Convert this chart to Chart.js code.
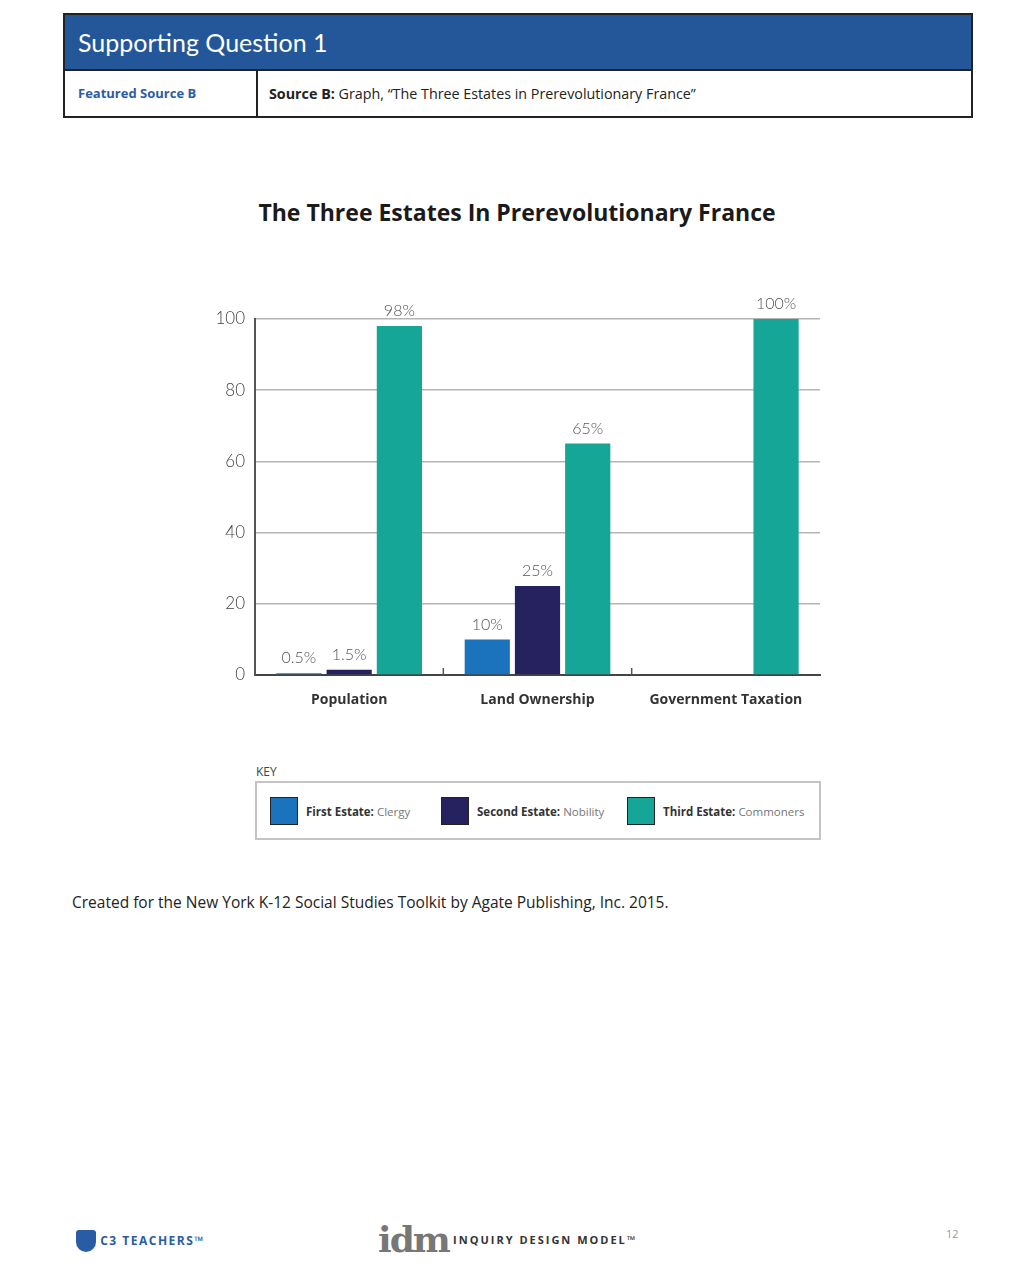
<!DOCTYPE html>
<html>
<head>
<meta charset="utf-8">
<script src="https://cdn.jsdelivr.net/npm/chart.js@4.4.1/dist/chart.umd.min.js"></script>
<style>
  body { margin: 0; width: 1024px; height: 1266px; background: #fff; position: relative; font-family: "Open Sans", Lato, sans-serif; }
  .hdr { position: absolute; left: 63px; top: 13px; width: 906px; height: 101px; border: 2px solid #222; }
  .hdr .band { height: 54px; background: #23579a; border-bottom: 2px solid #222; color: #fff; font-family: Lato, sans-serif; font-size: 25px; line-height: 54px; padding-left: 13px; }
  .hdr .row { display: flex; height: 45px; }
  .hdr .cell1 { width: 178px; border-right: 2px solid #222; color: #2a5ca6; font-weight: bold; font-size: 13px; line-height: 45px; padding-left: 13px; }
  .hdr .cell2 { padding-left: 11px; font-size: 14.3px; line-height: 45px; color: #222; }
  .title { position: absolute; left: 0; width: 1034px; top: 196px; text-align: center; font-weight: bold; font-size: 23px; color: #1a1a1a; }
  #wrap { position: absolute; left: 200px; top: 285px; width: 630px; height: 430px; }
  .key { position: absolute; left: 256px; top: 763px; font-size: 12px; color: #444; }
  .legend { position: absolute; left: 255px; top: 781px; width: 562px; height: 55px; border: 2px solid #c4c4c4; font-size: 11.5px; color: #333; }
  .legend .it { position: absolute; top: 14px; display: flex; align-items: center; }
  .legend .sw { width: 26px; height: 26px; border: 1px solid #222; margin-right: 8px; }
  .legend .lt { color: #777; }
  .src { position: absolute; left: 72px; top: 891px; font-size: 15.5px; color: #222; }
  .foot { position: absolute; top: 1228px; color: #444; }
</style>
</head>
<body>
<div class="hdr">
  <div class="band">Supporting Question 1</div>
  <div class="row">
    <div class="cell1">Featured Source B</div>
    <div class="cell2"><b>Source B:</b> Graph, “The Three Estates in Prerevolutionary France”</div>
  </div>
</div>

<div class="title">The Three Estates In Prerevolutionary France</div>

<div id="wrap"><canvas id="chart" width="630" height="430"></canvas></div>

<div class="key">KEY</div>
<div class="legend">
  <div class="it" style="left:13px"><div class="sw" style="background:#1b73bd"></div><b>First Estate:</b>&nbsp;<span class="lt">Clergy</span></div>
  <div class="it" style="left:184px"><div class="sw" style="background:#25225f"></div><b>Second Estate:</b>&nbsp;<span class="lt">Nobility</span></div>
  <div class="it" style="left:370px"><div class="sw" style="background:#15a698"></div><b>Third Estate:</b>&nbsp;<span class="lt">Commoners</span></div>
</div>

<div class="src">Created for the New York K-12 Social Studies Toolkit by Agate Publishing, Inc. 2015.</div>

<div class="foot" style="left:76px;top:1228px;">
  <span style="display:inline-block;width:20px;height:22px;background:#2a5ca6;border-radius:3px 3px 10px 10px;vertical-align:middle"></span>
  <span style="font-size:12px;font-weight:bold;letter-spacing:1.5px;color:#2a5ca6;vertical-align:middle">C3 TEACHERS™</span>
</div>
<div class="foot" style="left:378px;top:1218px;">
  <span style="font-family:'DejaVu Serif',serif;font-size:36px;font-weight:bold;color:#777;letter-spacing:-2px;vertical-align:middle">idm</span>
  <span style="font-size:11px;font-weight:bold;letter-spacing:2px;color:#333;vertical-align:middle">INQUIRY DESIGN MODEL™</span>
</div>
<div class="foot" style="left:946px;top:1226px;font-size:11px;color:#999;">12</div>

<script>
const categories = ['Population', 'Land Ownership', 'Government Taxation'];
const seriesNames = ['First Estate: Clergy', 'Second Estate: Nobility', 'Third Estate: Commoners'];
const firstEstate = [0.5, 10, 0];
const secondEstate = [1.5, 25, 0];
const thirdEstate = [98, 65, 100];
const yTicks = [0, 20, 40, 60, 80, 100];

const colors = ['#1b73bd', '#25225f', '#15a698'];

// draws the percent labels over the bars
const barLabels = {
  id: 'barLabels',
  afterDatasetsDraw(chart) {
    const ctx = chart.ctx;
    ctx.save();
    ctx.font = '300 16px Lato, sans-serif';
    ctx.fillStyle = '#555';
    ctx.textAlign = 'center';
    ctx.textBaseline = 'bottom';
    chart.data.datasets.forEach((ds, i) => {
      chart.getDatasetMeta(i).data.forEach((bar, j) => {
        const v = ds.data[j];
        if (!v) return;
        ctx.fillText(v + '%', bar.x, bar.y - 7);
      });
    });
    ctx.restore();
  }
};

// small ticks between the categories, pointing up from the baseline
const groupTicks = {
  id: 'groupTicks',
  afterDraw(chart) {
    const x = chart.scales.x, y = chart.scales.y;
    const ctx = chart.ctx;
    const base = y.getPixelForValue(0);
    ctx.save();
    ctx.strokeStyle = '#555';
    ctx.lineWidth = 1.5;
    for (let i = 0; i < categories.length - 1; i++) {
      const px = (x.getPixelForValue(i) + x.getPixelForValue(i + 1)) / 2;
      ctx.beginPath();
      ctx.moveTo(px, base);
      ctx.lineTo(px, base - 7);
      ctx.stroke();
    }
    ctx.restore();
  }
};

new Chart(document.getElementById('chart'), {
  type: 'bar',
  data: {
    labels: categories,
    datasets: [
      { label: seriesNames[0], data: firstEstate, backgroundColor: colors[0] },
      { label: seriesNames[1], data: secondEstate, backgroundColor: colors[1] },
      { label: seriesNames[2], data: thirdEstate, backgroundColor: colors[2] }
    ]
  },
  options: {
    responsive: false,
    animation: false,
    layout: { padding: { top: 34, right: 10 } },
    plugins: { legend: { display: false }, tooltip: { enabled: false } },
    scales: {
      x: {
        grid: { display: false },
        border: { color: '#444', width: 2 },
        ticks: { color: '#333', font: { family: 'Open Sans', weight: 'bold', size: 14 }, padding: 9 },
        afterFit: (s) => { s.height = 40; }
      },
      y: {
        min: 0, max: 100,
        afterBuildTicks: (s) => { s.ticks = yTicks.map(v => ({ value: v })); },
        grid: { color: '#b5b5b5', lineWidth: 1.5, drawTicks: false },
        border: { color: '#555', width: 2 },
        ticks: { color: '#444', font: { family: 'Lato', weight: '300', size: 17 }, padding: 10 },
        afterFit: (s) => { s.width = 55; }
      }
    }
  },
  plugins: [barLabels, groupTicks]
});
</script>
</body>
</html>
